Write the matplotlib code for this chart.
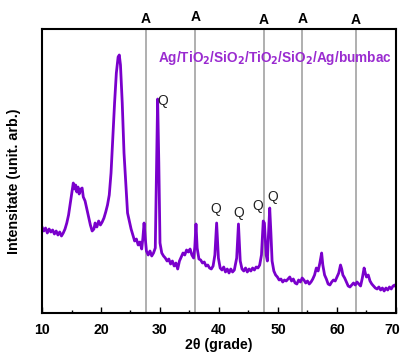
import numpy as np
import matplotlib.pyplot as plt
import matplotlib.transforms as mtransforms

plt.rcParams['font.family'] = ['Liberation Sans', 'DejaVu Sans']
plt.rcParams['mathtext.default'] = 'bf'

# XRD pattern, 2theta (deg) and intensity (arb. units)
two_theta = [
    10.0, 10.3, 10.6, 10.9, 11.2, 11.5, 11.8, 12.1, 12.4, 12.7, 13.0, 13.3, 13.6, 13.9,
    14.2, 14.5, 14.8, 15.1, 15.3, 15.5, 15.7, 15.9, 16.1, 16.3, 16.6, 16.8, 17.0, 17.3,
    17.6, 17.9, 18.2, 18.5, 18.8, 19.0, 19.3, 19.6, 19.9, 20.2, 20.5, 20.8, 21.1, 21.4,
    21.7, 22.0, 22.3, 22.6, 22.9, 23.1, 23.3, 23.6, 23.9, 24.2, 24.5, 24.8, 25.1, 25.4,
    25.7, 26.0, 26.3, 26.6, 26.9, 27.1, 27.3, 27.5, 27.7, 28.0, 28.3, 28.6, 28.9, 29.2,
    29.4, 29.6, 29.8, 30.0, 30.3, 30.6, 30.9, 31.2, 31.5, 31.8, 32.1, 32.4, 32.7, 33.0,
    33.3, 33.6, 33.9, 34.2, 34.5, 34.8, 35.1, 35.4, 35.7, 35.9, 36.1, 36.3, 36.6, 36.9,
    37.2, 37.5, 37.8, 38.1, 38.4, 38.7, 39.0, 39.3, 39.6, 39.9, 40.2, 40.5, 40.8, 41.1,
    41.4, 41.7, 42.0, 42.3, 42.6, 43.0, 43.3, 43.6, 43.9, 44.2, 44.5, 44.8, 45.1, 45.4,
    45.7, 46.0, 46.3, 46.6, 46.9, 47.2, 47.5, 47.7, 48.0, 48.2, 48.4, 48.6, 48.8, 49.0,
    49.3, 49.6, 49.9, 50.2, 50.5, 50.8, 51.1, 51.4, 51.7, 52.0, 52.3, 52.6, 52.9, 53.2,
    53.5, 53.8, 54.1, 54.4, 54.7, 55.0, 55.3, 55.6, 55.9, 56.2, 56.5, 56.8, 57.1, 57.4,
    57.6, 57.9, 58.2, 58.5, 58.8, 59.1, 59.4, 59.7, 60.0, 60.3, 60.6, 60.8, 61.0, 61.3,
    61.6, 61.9, 62.2, 62.5, 62.8, 63.1, 63.4, 63.7, 64.0, 64.3, 64.6, 64.8, 65.0, 65.3,
    65.6, 65.9, 66.2, 66.5, 66.8, 67.1, 67.4, 67.7, 68.0, 68.3, 68.6, 68.9, 69.2, 69.5,
    69.8, 70.0,
]
intensity = [
    86, 82, 85, 80, 84, 81, 83, 79, 82, 78, 81, 77, 80, 84,
    90, 98, 110, 122, 130, 124, 128, 121, 126, 119, 124, 125, 116, 112,
    104, 96, 88, 82, 84, 90, 86, 92, 88, 91, 95, 101, 108, 118,
    140, 175, 210, 240, 256, 258, 248, 210, 160, 130, 100, 92, 84, 78,
    72, 74, 68, 71, 64, 75, 90, 75, 62, 58, 62, 57, 60, 65,
    140, 214, 150, 70, 60, 57, 55, 52, 54, 49, 52, 47, 50, 44,
    52, 56, 60, 58, 63, 61, 64, 58, 55, 66, 89, 65, 54, 53,
    50, 51, 47, 48, 45, 44, 47, 58, 90, 55, 45, 43, 46, 41,
    44, 40, 44, 41, 43, 55, 89, 52, 44, 42, 45, 41, 44, 42,
    45, 43, 46, 45, 48, 58, 92, 90, 58, 52, 80, 105, 80, 52,
    42, 38, 36, 33, 34, 31, 33, 32, 34, 36, 32, 34, 30, 29,
    33, 31, 35, 33, 30, 32, 29, 31, 34, 38, 45, 42, 50, 60,
    48, 38, 34, 29, 28, 31, 33, 32, 36, 40, 48, 44, 38, 35,
    31, 27, 26, 28, 30, 28, 31, 29, 27, 35, 45, 40, 36, 38,
    32, 29, 27, 25, 24, 26, 23, 25, 22, 25, 23, 26, 24, 27,
    28, 26,
]

# anatase reference positions
anatase_pos = [27.6, 36.0, 47.6, 54.1, 63.2]
anatase_lab_y = [1.035, 1.042, 1.032, 1.035, 1.032]

# quartz-like peak markers
q_x = [30.4, 39.5, 43.3, 46.6, 49.1]
q_y = [212, 104, 100, 107, 116]

fig = plt.figure(figsize=(4.02, 3.52), dpi=100)
ax = fig.add_axes([0.1045, 0.1108, 0.8805, 0.8068])

for i, xp in enumerate(anatase_pos):
    ax.axvline(xp, color='#9a9a9a', lw=1.1, zorder=1)
    ax.text(xp, anatase_lab_y[i], 'A', transform=ax.get_xaxis_transform(),
            ha='center', va='center', fontsize=10, fontweight='bold')

ax.plot(two_theta, intensity, color='#7a00cc', lw=2, zorder=2)

for xq, yq in zip(q_x, q_y):
    ax.text(xq, yq, 'Q', ha='center', va='center', fontsize=10, color='#222222')

ax.text(29.66, 255, 'Ag/TiO$_2$/SiO$_2$/TiO$_2$/SiO$_2$/Ag/bumbac',
        ha='left', va='center', fontsize=9.8, fontweight='bold', color='#9a2bd0')

ax.set_xlim(10, 70)
ax.set_ylim(0, 284)
ax.set_xticks([10, 20, 30, 40, 50, 60, 70])
ax.set_xticks([15, 25, 35, 45, 55, 65], minor=True)
ax.set_yticks([])
ax.tick_params(axis='x', direction='in', length=4, width=1, labelsize=10.2, pad=7)
ax.tick_params(axis='x', which='minor', direction='in', length=2.5, width=1)
for lab in ax.get_xticklabels():
    lab.set_fontweight('bold')
# pull the last label in so it stays on the canvas
last = ax.get_xticklabels()[-1]
last.set_transform(last.get_transform() +
                   mtransforms.ScaledTranslation(-4 / 100, 0, fig.dpi_scale_trans))
for sp in ax.spines.values():
    sp.set_linewidth(1.5)

ax.set_xlabel('2θ (grade)', fontsize=10.2, fontweight='bold', labelpad=1)
ax.set_ylabel('Intensitate (unit. arb.)', fontsize=10.3, fontweight='bold')
ax.yaxis.set_label_coords(-0.06, 0.465)

fig.savefig('out.png', dpi=100)
